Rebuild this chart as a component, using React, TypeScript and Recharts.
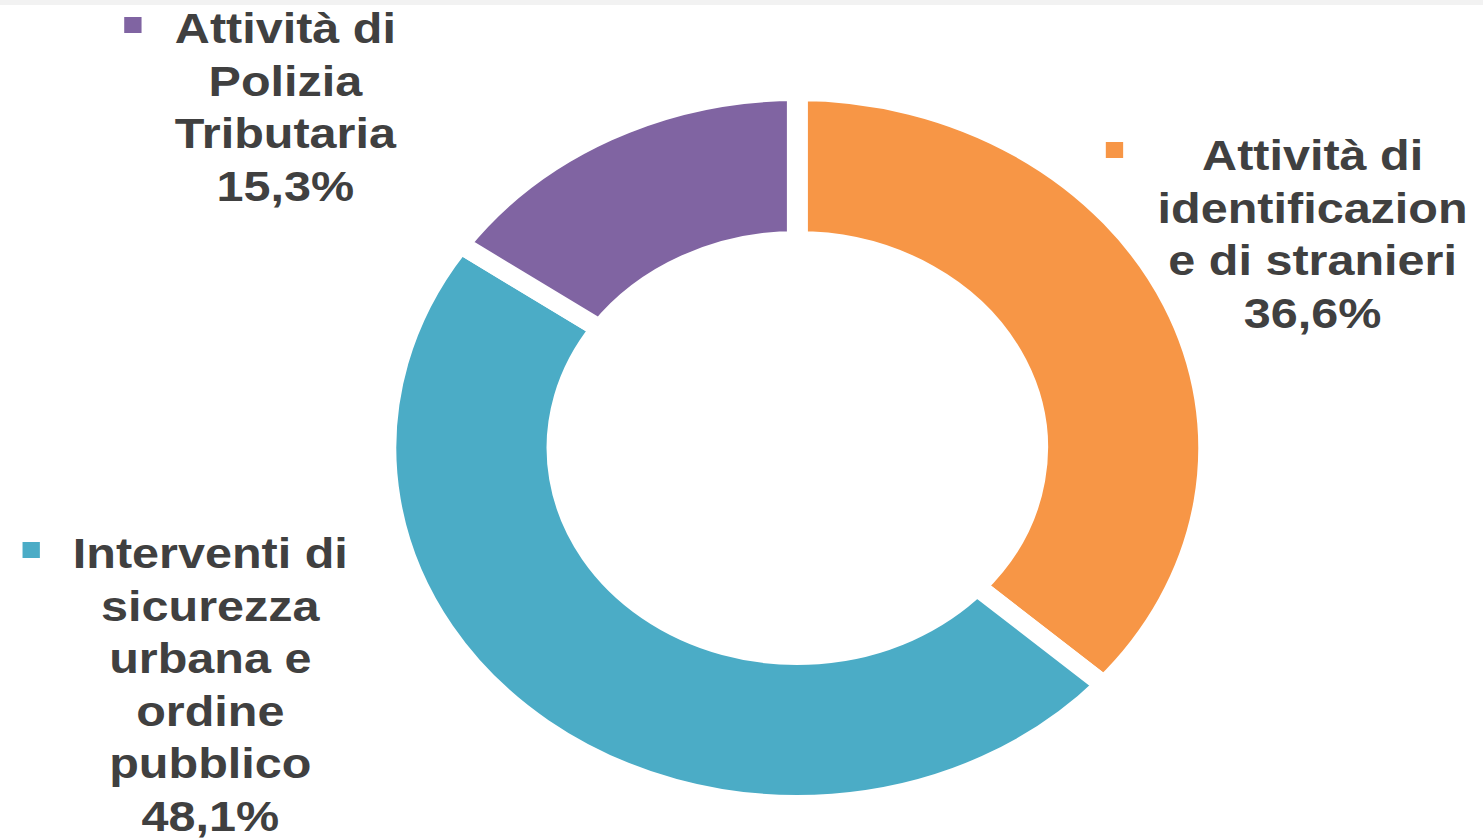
import React from 'react';
import { PieChart, Pie, Cell } from 'recharts';

// ---- data ----
const CATEGORIES: string[] = [
  'Attività di identificazione di stranieri',
  'Interventi di sicurezza urbana e ordine pubblico',
  'Attività di Polizia Tributaria',
];
const VALUES: number[] = [36.6, 48.1, 15.3];
const LABEL_LINES: string[][] = [
  ['Attività di', 'identificazion', 'e di stranieri'],
  ['Interventi di', 'sicurezza', 'urbana e', 'ordine', 'pubblico'],
  ['Attività di', 'Polizia', 'Tributaria'],
];
const COLORS: string[] = ['#F79646', '#4BACC6', '#8064A2'];

// ---- layout (offsets from pie centre, unscaled chart px) ----
const STRETCH_X = 1.1555;
const CHART_W = 1283;
const CHART_H = 840;
const CX = 690;
const CY = 448;
const LINE_H = 52.6;
const GAP = 18;
const LABEL_LAYOUT = [
  { dx: 446, dy: -278, mx: 274.5, my: -298 },
  { dx: -508, dy: 120, mx: -663, my: 102 },
  { dx: -443, dy: -405, mx: -575, my: -423 },
];

const data = CATEGORIES.map((name, i) => ({ name, value: VALUES[i] }));

const fmt = (v: number) => v.toFixed(1).replace('.', ',') + '%';

const renderLabel = (props: any) => {
  const index: number = props.index;
  const cx: number = typeof props.cx === 'number' ? props.cx : CX;
  const cy: number = typeof props.cy === 'number' ? props.cy : CY;
  const lay = LABEL_LAYOUT[index];
  const lines = [...LABEL_LINES[index], fmt(VALUES[index])];
  const x = cx + lay.dx;
  const y0 = cy + lay.dy;
  return (
    <g key={`lbl-${index}`}>
      <rect x={cx + lay.mx - 7.5} y={cy + lay.my - 8} width={15} height={16} fill={COLORS[index]} />
      <text
        x={x}
        y={y0}
        textAnchor="middle"
        fill="#404040"
        fontFamily="'Liberation Sans', Arial, sans-serif"
        fontWeight="bold"
        fontSize={42}
      >
        {lines.map((l, i) => (
          <tspan key={i} x={x} y={y0 + i * LINE_H}>
            {l}
          </tspan>
        ))}
      </text>
    </g>
  );
};

export default function App() {
  return (
    <div
      style={{
        position: 'fixed',
        left: 0,
        top: 0,
        width: 1483,
        height: 840,
        overflow: 'hidden',
        background: '#ffffff',
      }}
    >
      <div style={{ position: 'absolute', left: 0, top: 0, width: 1483, height: 5, background: '#f2f2f2' }} />
      <div
        style={{
          position: 'absolute',
          left: 0,
          top: 0,
          width: CHART_W,
          height: CHART_H,
          transform: `scaleX(${STRETCH_X})`,
          transformOrigin: '0 0',
        }}
      >
        <PieChart width={CHART_W} height={CHART_H} margin={{ top: 0, right: 0, bottom: 0, left: 0 }}>
          <Pie
            data={data}
            dataKey="value"
            nameKey="name"
            cx={CX}
            cy={CY}
            outerRadius={347 + GAP / 2}
            innerRadius={217 - GAP / 2}
            startAngle={90}
            endAngle={-270}
            stroke="#ffffff"
            strokeWidth={GAP}
            label={renderLabel}
            labelLine={false}
            isAnimationActive={false}
          >
            {data.map((d, i) => (
              <Cell key={d.name} fill={COLORS[i]} stroke="#ffffff" strokeWidth={GAP} />
            ))}
          </Pie>
        </PieChart>
      </div>
    </div>
  );
}
